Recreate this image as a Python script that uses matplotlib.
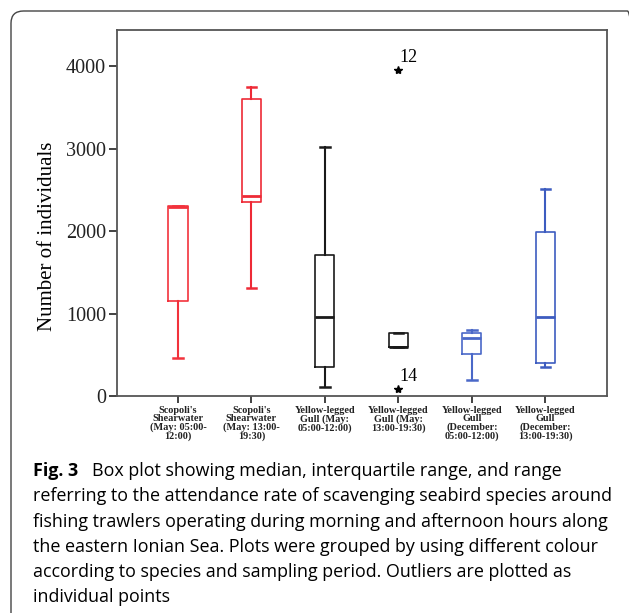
import matplotlib.pyplot as plt
from matplotlib.patches import FancyBboxPatch

# box statistics
labels = ["Scopoli's\nShearwater\n(May: 05:00-\n12:00)",
          "Scopoli's\nShearwater\n(May: 13:00-\n19:30)",
          "Yellow-legged\nGull (May:\n05:00-12:00)",
          "Yellow-legged\nGull (May:\n13:00-19:30)",
          "Yellow-legged\nGull\n(December:\n05:00-12:00)",
          "Yellow-legged\nGull\n(December:\n13:00-19:30)"]
whislo = [456, 1305, 105, 598, 190, 356]
q1 = [1151, 2351, 356, 598, 505, 404]
med = [2287, 2424, 958, 598, 707, 958]
q3 = [2303, 3600, 1713, 760, 760, 1984]
whishi = [2303, 3750, 3018, 760, 804, 2505]
colors = ["#f2323c", "#ee2a36", "#1a1a1a", "#1a1a1a", "#4a68c8", "#3d5cc0"]
outlier_x = [4, 4]
outlier_y = [3952, 85]
outlier_lab = ["12", "14"]

caption_first = "Box plot showing median, interquartile range, and range"
caption_rest = ["referring to the attendance rate of scavenging seabird species around",
                "fishing trawlers operating during morning and afternoon hours along",
                "the eastern Ionian Sea. Plots were grouped by using different colour",
                "according to species and sampling period. Outliers are plotted as",
                "individual points"]

fig = plt.figure(figsize=(6.29, 6.13), dpi=100)
ax = fig.add_axes([0.186, 0.354, 0.779, 0.597])

stats = []
for i in range(len(labels)):
    stats.append(dict(whislo=whislo[i], q1=q1[i], med=med[i], q3=q3[i],
                      whishi=whishi[i], fliers=[]))

pos = list(range(1, len(labels) + 1))
for i, s in enumerate(stats):
    c = colors[i]
    ax.bxp([s], positions=[pos[i]], widths=0.26, showfliers=False,
           boxprops=dict(color=c, lw=1.2),
           whiskerprops=dict(color=c, lw=1.5),
           capprops=dict(color=c, lw=1.8),
           medianprops=dict(color=c, lw=2.0),
           capwidths=0.13)

ax.plot(outlier_x, outlier_y, ls="none", marker="*", color="black", ms=6)
for x, y, t in zip(outlier_x, outlier_y, outlier_lab):
    ax.text(x + 0.01, y + 50, t, family="Liberation Serif", fontsize=13,
            ha="left", va="bottom")

ax.set_xlim(0.17, 6.84)
ax.set_ylim(0, 4436)
ax.set_yticks([0, 1000, 2000, 3000, 4000])
ax.set_yticklabels(["0", "1000", "2000", "3000", "4000"],
                   family="Liberation Serif", fontsize=14.5)
ax.set_xticks(pos)
ax.set_xticklabels(labels, family="Liberation Serif", fontsize=7.4,
                   fontweight="bold", linespacing=0.93)
ax.set_ylabel("Number of individuals", family="Liberation Serif", fontsize=15,
              labelpad=8)
ax.yaxis.set_label_coords(-0.122, 0.437)
ax.tick_params(axis="y", length=6, width=1.2, pad=2, colors="#222222")
ax.tick_params(axis="x", length=5, width=1.2, pad=2, colors="#222222")
for sp in ax.spines.values():
    sp.set_color("#555555")
    sp.set_linewidth(1.3)

# panel border with rounded corner
border = FancyBboxPatch((11 / 629, -0.05), 1.0, 1.0 - 11 / 613 + 0.05,
                        boxstyle="round,pad=0,rounding_size=0.02",
                        transform=fig.transFigure, fill=False,
                        ec="#444444", lw=1.0, clip_on=False)
fig.patches.append(border)

fs = 12.9
fig.text(33 / 629, 1 - 476 / 613, "Fig. 3", family="Open Sans", fontsize=fs,
         fontweight="bold", va="baseline")
fig.text(92 / 629, 1 - 476 / 613, caption_first,
         family="Open Sans", fontsize=fs, va="baseline")
for k, line in enumerate(caption_rest):
    fig.text(33 / 629, 1 - (501.3 + 25.3 * k) / 613, line,
             family="Open Sans", fontsize=fs, va="baseline")

fig.savefig("out.png", dpi=100)
